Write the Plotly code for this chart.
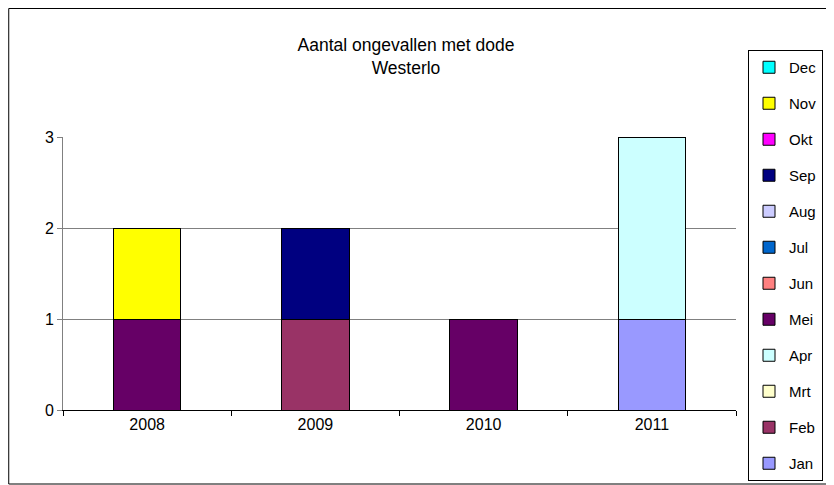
import plotly.graph_objects as go

years = ["2008", "2009", "2010", "2011"]
months = ["Jan", "Feb", "Mrt", "Apr", "Mei", "Jun", "Jul", "Aug", "Sep", "Okt", "Nov", "Dec"]
colors = ["#9999FF", "#993366", "#FFFFCC", "#CCFFFF", "#660066", "#FF8080",
          "#0066CC", "#CCCCFF", "#000080", "#FF00FF", "#FFFF00", "#00FFFF"]

# accidents with fatalities per month, per year (None = no accident)
jan = [None, None, None, 1]
feb = [None, 1, None, None]
mrt = [None, None, None, None]
apr = [None, None, None, 2]
mei = [1, None, 1, None]
jun = [None, None, None, None]
jul = [None, None, None, None]
aug = [None, None, None, None]
sep = [None, 1, None, None]
okt = [None, None, None, None]
nov = [1, None, None, None]
dec = [None, None, None, None]
values = [jan, feb, mrt, apr, mei, jun, jul, aug, sep, okt, nov, dec]

fig = go.Figure()
for i, m in enumerate(months):
    fig.add_trace(go.Bar(
        x=years, y=values[i], name=m,
        marker=dict(color=colors[i], line=dict(color="black", width=1)),
        legendgroup=m, legendrank=100 - i,
    ))

# page body has an 8px margin, so figure pixels = screen pixels - 8
W, H = 826, 477
L, R, T, B = 55, 95, 129, 75
pw, ph = W - L - R, H - T - B
def px(x):
    return (x - L) / pw
def py(y):
    return (H - B - y) / ph

fig.add_shape(type="rect", xref="paper", yref="paper",
              x0=px(0.5), x1=px(825), y0=py(476), y1=py(0.5),
              line=dict(color="black", width=1), layer="below")

fig.update_layout(
    width=W, height=H,
    barmode="stack", bargap=0.6,
    margin=dict(l=L, r=R, t=T, b=B),
    paper_bgcolor="white", plot_bgcolor="white",
    font=dict(family="Liberation Sans, Arial, sans-serif", size=16, color="black"),
    title=dict(text="Aantal ongevallen met dode<br>Westerlo", xref="container",
               x=398 / W, xanchor="center", yref="container",
               y=1 - 43 / H, yanchor="middle", font=dict(size=17.5)),
    xaxis=dict(showline=True, linecolor="black", ticks="outside", tickson="boundaries",
               ticklen=5, tickcolor="black", showgrid=False),
    yaxis=dict(range=[0, 3], dtick=1, showline=True, linecolor="#808080",
               gridcolor="#808080", ticks="outside", ticklen=5, tickcolor="#808080",
               zeroline=False),
    legend=dict(xref="container", yref="container", x=740 / W, y=1 - 42 / H,
                xanchor="left", yanchor="top",
                bordercolor="black", borderwidth=1, traceorder="grouped",
                tracegroupgap=13.5, font=dict(size=15), itemwidth=30, maxheight=450),
)

fig.write_html("out.html")
